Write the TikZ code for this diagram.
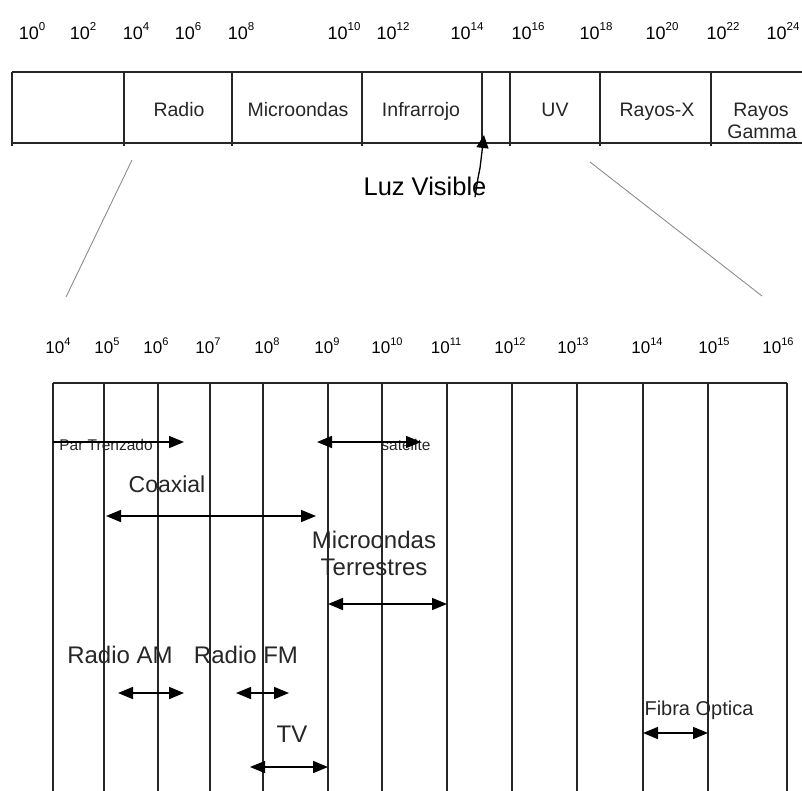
\documentclass[tikz,border=0pt]{standalone}
\usepackage{fontspec}
\setmainfont{Liberation Sans}
\usetikzlibrary{arrows.meta}
\newcommand{\tenp}[3]{{\fontsize{#1}{#1}\selectfont 10\raisebox{0.45em}{\fontsize{#2}{#2}\selectfont #3}}}
\tikzset{
  toplbl/.style={inner sep=0, anchor=base, font=\fontsize{18}{18}\selectfont},
  botlbl/.style={inner sep=0, anchor=base},
  bartxt/.style={inner sep=0, anchor=base, text=black!85, font=\fontsize{19.5}{19.5}\selectfont},
  gridline/.style={line width=1.4pt, draw=black!85},
  zoomline/.style={line width=0.9pt, draw=black!45},
  dbl/.style={line width=1.6pt, {Triangle[length=15pt,width=12pt]}-{Triangle[length=15pt,width=12pt]}},
  sgl/.style={line width=1.6pt, -{Triangle[length=15pt,width=12pt]}},
  bigtxt/.style={inner sep=0, anchor=base, text=black!85, font=\fontsize{24}{24}\selectfont},
  smalltxt/.style={inner sep=0, anchor=base, text=black!85, font=\fontsize{15.5}{15.5}\selectfont},
}
\begin{document}
\begin{tikzpicture}[x=1pt,y=-1pt]
\useasboundingbox (0,0) rectangle (802,790);
% top exponent labels
\foreach \xx/\ee [count=\i] in {32/0,83/2,136/4,188/6,241/8,344/10,393/12,467/14,528/16,596/18,662/20,723/22,783/24}
  \node[toplbl] (t\i) at (\xx,39) {\tenp{18}{11.5}{\ee}};
% top bar
\draw[gridline] (12,72) -- (802,72);
\draw[gridline] (12,143) -- (802,143);
\foreach \xx in {12,124,232,362,482,510,600,711}
  \draw[gridline] (\xx,72) -- (\xx,146);
\node[bartxt] (radio) at (179,116) {Radio};
\node[bartxt] (micro) at (298,116) {Microondas};
\node[bartxt] (infra) at (421,116) {Infrarrojo};
\node[bartxt] (uv) at (555,116) {UV};
\node[bartxt] (rx) at (657,116) {Rayos-X};
\node[bartxt] (rg1) at (761,116) {Rayos};
\node[bartxt] (rg2) at (762,138) {Gamma};
% Luz visible
\node[inner sep=0, anchor=base, font=\fontsize{25.5}{25.5}\selectfont] (lv) at (425,195) {Luz Visible};
\coordinate (lvs) at (475,197);
\coordinate (lvt) at (484,135);
\draw[line width=1.3pt, -{Triangle[length=13pt,width=12pt]}] (lvs) -- (478,178) -- (480,168) -- (lvt);
% zoom lines
\coordinate (zl1) at (132,160); \coordinate (zl2) at (66,297);
\coordinate (zr1) at (590,162); \coordinate (zr2) at (762,296);
\draw[zoomline] (zl1) -- (zl2);
\draw[zoomline] (zr1) -- (zr2);
% bottom exponent labels
\foreach \xx/\ee [count=\i] in {58/4,107/5,156/6,208/7,267/8,327/9,387/10,446/11,510/12,573/13,647/14,714/15,778/16}
  \node[botlbl] (b\i) at (\xx,353) {\tenp{17}{11}{\ee}};
% bottom grid
\draw[gridline] (53,383) -- (787,383);
\foreach \xx in {53,104,158,210,263,328,382,447,512,577,643,708,787}
  \draw[gridline] (\xx,383) -- (\xx,792);
% labels
\node[smalltxt] (par) at (106,450) {Par Trenzado};
\node[smalltxt] (sat) at (406,450) {satelite};
\node[inner sep=0, anchor=base, text=black!85, font=\fontsize{23}{23}\selectfont] (coax) at (167,492) {Coaxial};
\node[bigtxt] (mt1) at (374,548) {Microondas};
\node[bigtxt] (mt2) at (374,575) {Terrestres};
\node[bigtxt] (ram) at (120,663) {Radio AM};
\node[bigtxt] (rfm) at (246,663) {Radio FM};
\node[bigtxt] (tv) at (292,742) {TV};
\node[inner sep=0, anchor=base, text=black!85, font=\fontsize{20}{20}\selectfont] (fo) at (699,715) {Fibra Optica};
% arrows
\coordinate (pa1) at (53,442); \coordinate (pa2) at (184,442);
\draw[sgl] (pa1) -- (pa2);
\coordinate (sa1) at (317,442); \coordinate (sa2) at (421,442);
\draw[dbl] (sa1) -- (sa2);
\coordinate (co1) at (106,516); \coordinate (co2) at (316,516);
\draw[dbl] (co1) -- (co2);
\coordinate (mw1) at (328,604); \coordinate (mw2) at (447,604);
\draw[dbl] (mw1) -- (mw2);
\coordinate (am1) at (118,693); \coordinate (am2) at (184,693);
\draw[dbl] (am1) -- (am2);
\coordinate (fm1) at (236,693); \coordinate (fm2) at (289,693);
\draw[dbl] (fm1) -- (fm2);
\coordinate (tv1) at (250,767); \coordinate (tv2) at (328,767);
\draw[dbl] (tv1) -- (tv2);
\coordinate (fo1) at (643,733); \coordinate (fo2) at (708,733);
\draw[dbl] (fo1) -- (fo2);
\end{tikzpicture}
\end{document}
